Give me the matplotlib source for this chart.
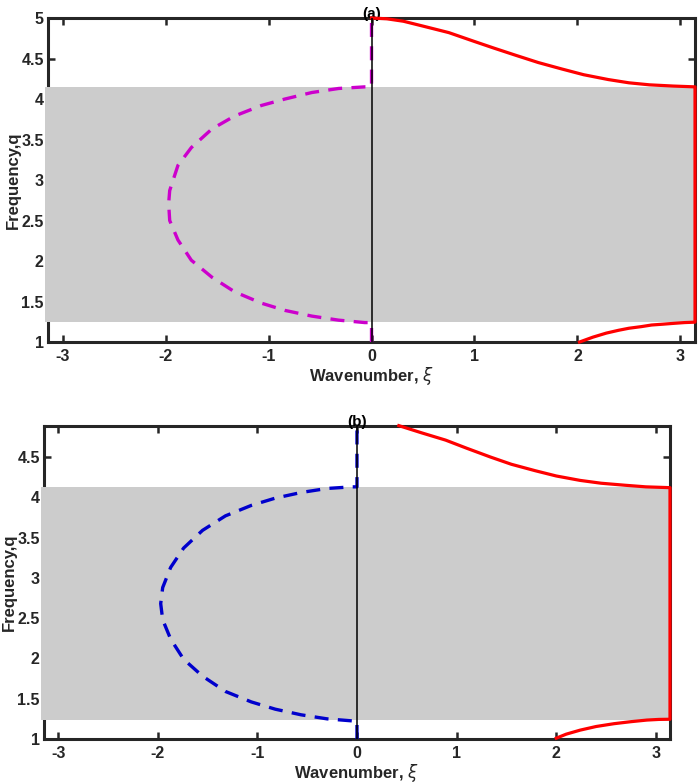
import numpy as np
import matplotlib
matplotlib.use('Agg')
import matplotlib.pyplot as plt

plt.rcParams['font.family'] = ['Liberation Sans', 'DejaVu Sans']
plt.rcParams['mathtext.fontset'] = 'dejavusans'

# panel (a): imaginary branch (dashed, left) and real branch (red, right)
xi_a_dash = [0.0, 0.0, -0.065, -0.32, -0.58, -0.84, -1.07, -1.33, -1.55, -1.75, -1.88,
             -1.96, -1.97, -1.96, -1.88, -1.75, -1.55, -1.33, -1.07, -0.84, -0.58,
             -0.32, -0.065, 0.0, 0.0]
q_a_dash = [1.0, 1.24, 1.24, 1.27, 1.32, 1.39, 1.48, 1.62, 1.80, 2.01, 2.26,
            2.50, 2.71, 2.87, 3.18, 3.40, 3.63, 3.79, 3.92, 4.00, 4.08,
            4.13, 4.15, 4.15, 5.0]
xi_a_red = [2.02, 2.15, 2.28, 2.40, 2.50, 2.62, 2.72, 2.83, 2.93, 3.04, np.pi,
            np.pi, 2.93, 2.70, 2.50, 2.30, 2.06, 1.85, 1.62, 1.40, 1.185, 1.0,
            0.75, 0.50, 0.31, 0.15, 0.0]
q_a_red = [1.0, 1.06, 1.11, 1.145, 1.17, 1.19, 1.21, 1.22, 1.23, 1.24, 1.245,
           4.15, 4.16, 4.175, 4.20, 4.24, 4.30, 4.37, 4.45, 4.54, 4.63, 4.71,
           4.82, 4.90, 4.96, 4.99, 5.0]
band_a = (1.245, 4.15)
ylim_a = (1, 5)

# panel (b)
xi_b_dash = [0.0, 0.0, -0.05, -0.30, -0.56, -0.82, -1.06, -1.32, -1.55, -1.74, -1.87,
             -1.95, -1.97, -1.95, -1.87, -1.74, -1.55, -1.32, -1.06, -0.82, -0.56,
             -0.30, -0.05, 0.0, 0.0]
q_b_dash = [1.0, 1.225, 1.225, 1.25, 1.30, 1.37, 1.46, 1.59, 1.78, 1.99, 2.24,
            2.48, 2.68, 2.88, 3.13, 3.37, 3.59, 3.77, 3.90, 3.99, 4.06,
            4.11, 4.13, 4.13, 4.885]
xi_b_red = [2.0, 2.10, 2.24, 2.40, 2.58, 2.75, 2.91, 3.03, np.pi,
            np.pi, 2.90, 2.69, 2.45, 2.24, 2.0, 1.79, 1.55, 1.34, 1.10, 0.89, 0.65, 0.42]
q_b_red = [1.01, 1.06, 1.11, 1.155, 1.19, 1.215, 1.235, 1.243, 1.245,
           4.12, 4.13, 4.15, 4.175, 4.21, 4.265, 4.33, 4.41, 4.50, 4.61, 4.71, 4.80, 4.89]
band_b = (1.236, 4.13)
ylim_b = (1, 4.885)

xticks = [-3, -2, -1, 0, 1, 2, 3]
yticks = [1, 1.5, 2, 2.5, 3, 3.5, 4, 4.5, 5]
ytick_labels = ['1', '1.5', '2', '2.5', '3', '3.5', '4', '4.5', '5']


def draw_panel(ax, xd, qd, dash_color, xr, qr, band, ylim, title):
    lo, hi = -np.pi, np.pi
    ax.fill_between([lo - 0.03, hi], band[0], band[1], color='#cccccc',
                    linewidth=0, zorder=3, clip_on=False)
    dl, = ax.plot(xd, qd, '--', color=dash_color, linewidth=2.4, zorder=4)
    dl.set_dashes([4.2, 2.8])
    ax.plot(xr, qr, '-', color='#ff0000', linewidth=2.3, zorder=4, clip_on=False,
            solid_joinstyle='round')
    ax.axvline(0, color='black', linewidth=1.1, zorder=5)
    ax.set_xlim(lo, hi)
    ax.set_ylim(*ylim)
    ax.set_xticks(xticks)
    ax.set_xticklabels([str(t) for t in xticks])
    yt = [t for t in yticks if t <= ylim[1] + 1e-9]
    ax.set_yticks(yt)
    ax.set_yticklabels(ytick_labels[:len(yt)])
    ax.tick_params(direction='in', top=True, right=True, length=5, width=1.8,
                   labelsize=11.5, color='#262626')
    ax.tick_params(axis='x', pad=5)
    ax.tick_params(axis='y', pad=3)
    for lab in ax.get_xticklabels() + ax.get_yticklabels():
        lab.set_fontweight('bold')
        lab.set_color('#262626')
    for s in ax.spines.values():
        s.set_linewidth(2.2)
        s.set_color('#262626')
    ax.set_xlabel(r'Wavenumber, $\xi$', fontsize=12, fontweight='bold', labelpad=0.5,
                  color='#262626')
    ax.set_ylabel('Frequency,q', fontsize=12, fontweight='bold', labelpad=0,
                  color='#262626')
    ax.set_title(title, fontsize=11, fontweight='bold', pad=0)


fig = plt.figure(figsize=(6.99, 7.83), dpi=100)
ax1 = fig.add_axes([0.0687, 0.5632, 0.9256, 0.4138])
ax2 = fig.add_axes([0.0629, 0.0562, 0.8956, 0.3997])

draw_panel(ax1, xi_a_dash, q_a_dash, '#cc00cc', xi_a_red, q_a_red, band_a, ylim_a, '(a)')
draw_panel(ax2, xi_b_dash, q_b_dash, '#0000cc', xi_b_red, q_b_red, band_b, ylim_b, '(b)')

fig.savefig('out.png', dpi=100)
